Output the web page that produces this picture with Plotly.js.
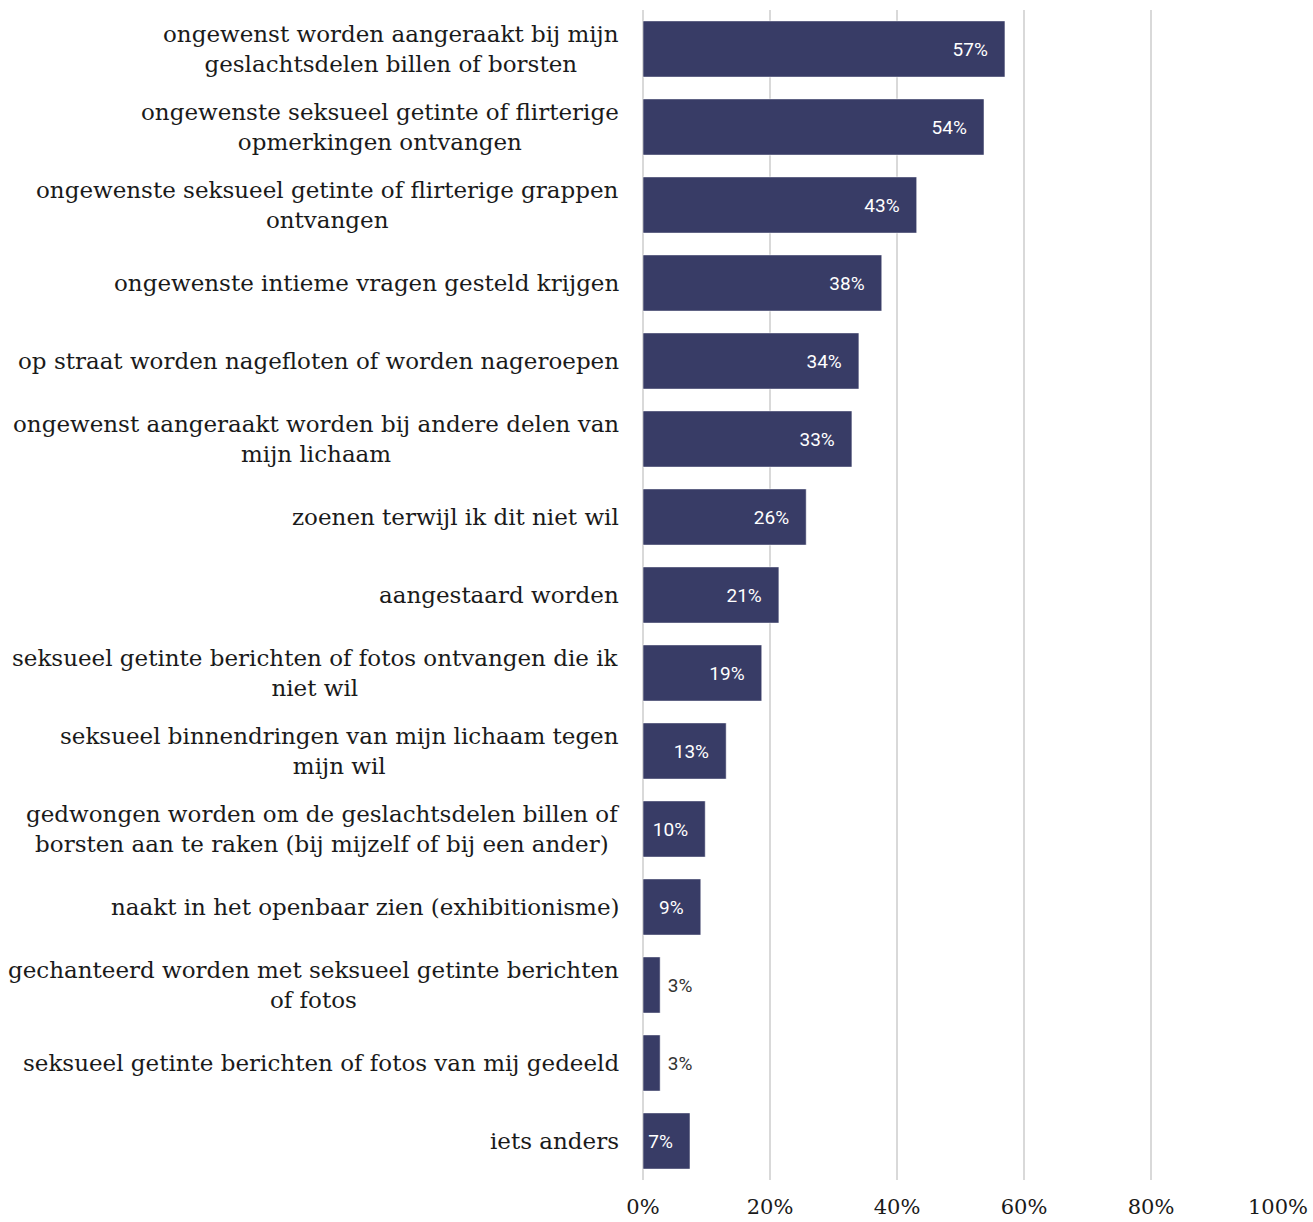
<!DOCTYPE html>
<html><head><meta charset="utf-8">
<script src="https://cdn.plot.ly/plotly-3.0.1.min.js"></script>
<style>body{margin:0;background:#fff}#c{width:1313px;height:1222px}</style>
</head><body><div id="c"></div>
<script>
const categories = [
  "ongewenst worden aangeraakt bij mijn<br>geslachtsdelen billen of borsten",
  "ongewenste seksueel getinte of flirterige<br>opmerkingen ontvangen",
  "ongewenste seksueel getinte of flirterige grappen<br>ontvangen",
  "ongewenste intieme vragen gesteld krijgen",
  "op straat worden nagefloten of worden nageroepen",
  "ongewenst aangeraakt worden bij andere delen van<br>mijn lichaam",
  "zoenen terwijl ik dit niet wil",
  "aangestaard worden",
  "seksueel getinte berichten of fotos ontvangen die ik<br>niet wil",
  "seksueel binnendringen van mijn lichaam tegen<br>mijn wil",
  "gedwongen worden om de geslachtsdelen billen of<br>borsten aan te raken (bij mijzelf of bij een ander)",
  "naakt in het openbaar zien (exhibitionisme)",
  "gechanteerd worden met seksueel getinte berichten<br>of fotos",
  "seksueel getinte berichten of fotos van mij gedeeld",
  "iets anders"
];
const values = [57.0, 53.7, 43.1, 37.6, 34.0, 32.9, 25.7, 21.4, 18.7, 13.1, 9.8, 9.1, 2.7, 2.7, 7.4];
const tickValues = [0, 20, 40, 60, 80, 100];
const tickLabels = ["0%", "20%", "40%", "60%", "80%", "100%"];

const NB = '\u00a0';
const isInside = values.map(v => v >= 5);
const positions = isInside.map(b => b ? 'inside' : 'outside');
const templates = isInside.map(b => b ? '%{x:.0f}%' + NB + NB + NB : NB + '%{x:.0f}%');

const serif = 'DejaVu Serif, serif';
const annotations = categories.map(c => ({
  xref: 'paper', yref: 'y', x: 0, y: c,
  xanchor: 'right', yanchor: 'middle', xshift: -22,
  text: c, align: 'center', showarrow: false,
  font: {family: serif, size: 23, color: '#1a1a1a'}
}));

Plotly.newPlot('c', [{
  type: 'bar', orientation: 'h',
  x: values, y: categories,
  marker: {color: '#383c66', line: {color: '#ffffff', width: 0.5}},
  texttemplate: templates,
  textposition: positions,
  insidetextanchor: 'end',
  constraintext: 'none',
  insidetextfont: {family: 'Roboto', size: 19, color: '#ffffff'},
  outsidetextfont: {family: 'Roboto', size: 19, color: '#333333'},
  cliponaxis: false,
  hoverinfo: 'none'
}], {
  width: 1313, height: 1222,
  margin: {l: 643, r: 35, t: 10, b: 42},
  paper_bgcolor: '#fff', plot_bgcolor: '#fff',
  bargap: 0.28,
  showlegend: false,
  annotations: annotations,
  xaxis: {
    range: [0, 100], tickvals: tickValues, ticktext: tickLabels,
    showgrid: true, gridcolor: '#d9d9d9', gridwidth: 1.5,
    zeroline: true, zerolinecolor: '#d9d9d9', zerolinewidth: 1.5, showline: false,
    ticks: 'outside', ticklen: 8, tickcolor: 'rgba(0,0,0,0)',
    tickfont: {family: serif, size: 21, color: '#1a1a1a'},
    fixedrange: true
  },
  yaxis: {
    autorange: 'reversed', type: 'category',
    showgrid: false, zeroline: false, showline: false,
    showticklabels: false,
    fixedrange: true
  }
}, {displayModeBar: false, staticPlot: true});
</script></body></html>
